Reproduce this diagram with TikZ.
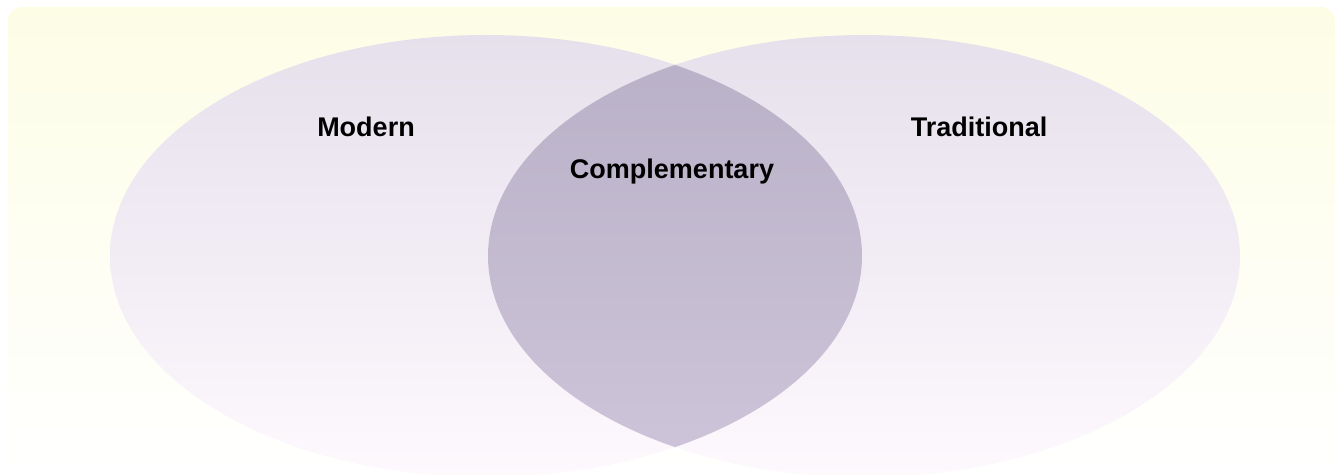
\documentclass[tikz,border=0pt]{standalone}
\usepackage{fontspec}
\setmainfont{Liberation Sans}
\begin{document}
\begin{tikzpicture}[x=1pt,y=1pt,font=\bfseries\fontsize{27}{30}\selectfont]

\definecolor{cBack}{RGB}{253,253,230}
\definecolor{cSetTop}{RGB}{230,224,236}
\definecolor{cSetBot}{RGB}{253,249,253}
\definecolor{cMixTop}{RGB}{184,176,198}
\definecolor{cMixBot}{RGB}{206,197,218}

\tikzset{
  setlabel/.style = {anchor=center, black},
}

\useasboundingbox (0,0) rectangle (1343,474);

%% ---------- the ground ----------
\shade[top color=cBack, bottom color=white, rounded corners=14pt]
  (8,0) rectangle (1335,467);

%% ---------- the two sets ----------
\shade[top color=cSetTop, bottom color=cSetBot] (486,218) ellipse (376 and 221);
\shade[top color=cSetTop, bottom color=cSetBot] (864,218) ellipse (376 and 221);

%% ---------- the overlap ----------
\begin{scope}
  \clip (486,218) ellipse (376 and 221);
  \shade[top color=cMixTop, bottom color=cMixBot] (864,218) ellipse (376 and 221);
\end{scope}

%% ---------- the labels ----------
\node[setlabel] (modern)  at (366,347) {Modern};
\node[setlabel] (trad)    at (979,347) {Traditional};
\node[setlabel] (compl)   at (672,302) {Complementary};

\end{tikzpicture}
\end{document}
